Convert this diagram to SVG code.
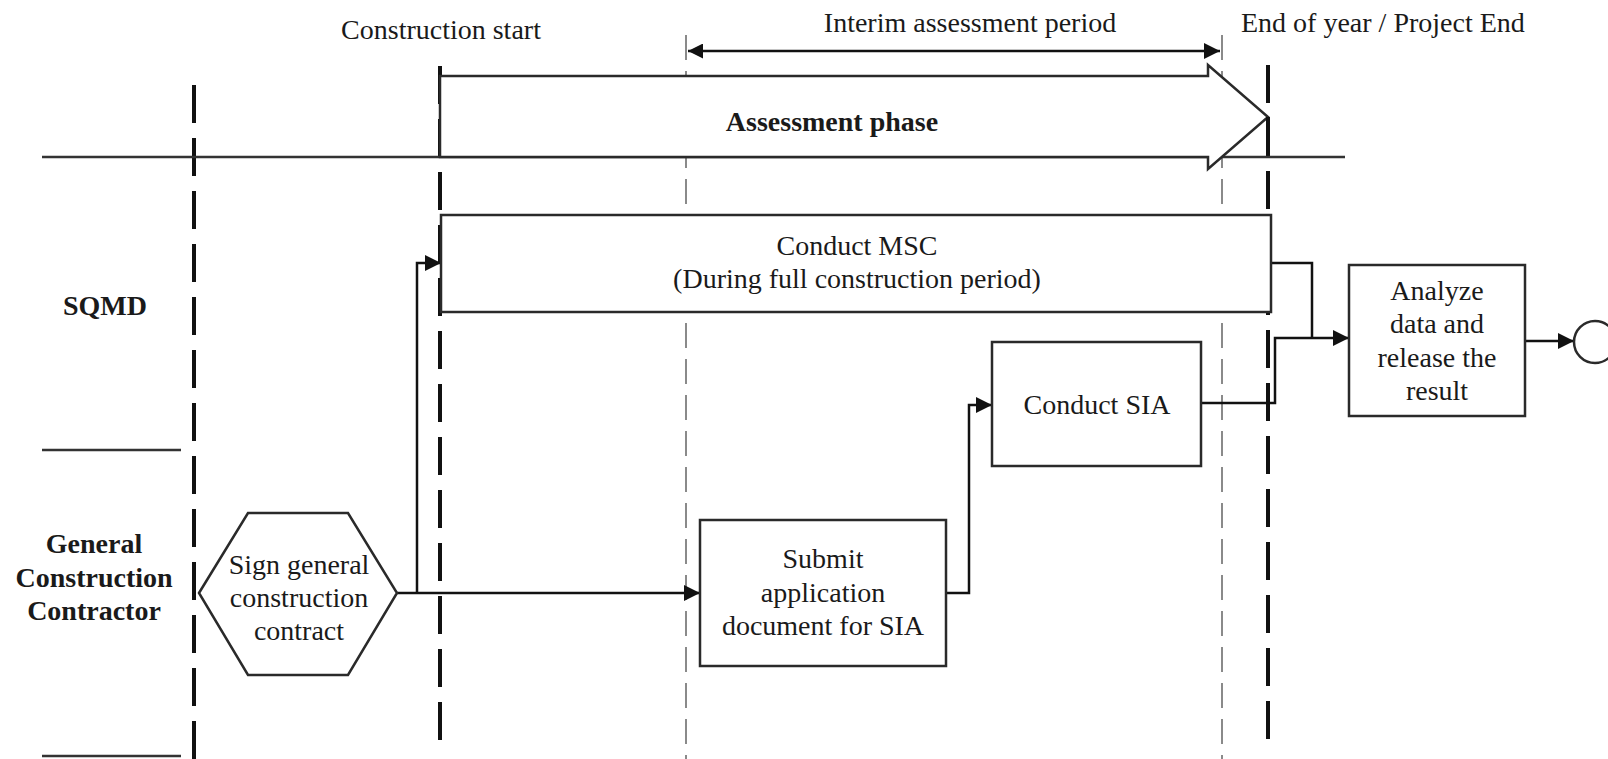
<svg xmlns="http://www.w3.org/2000/svg" width="1608" height="759" viewBox="0 0 1608 759">
<style>
text{font-family:"Liberation Serif","Times New Roman",serif;font-size:28px;fill:#1a1a1a}
.b{font-weight:bold}
.c{text-anchor:middle}
.thick{stroke:#111;stroke-width:4;stroke-dasharray:38 15;fill:none}
.thin{stroke:#8a8a8a;stroke-width:2;stroke-dasharray:25 11;fill:none}
.line{stroke:#333;stroke-width:2.5;fill:none}
.box{fill:#fff;stroke:#2a2a2a;stroke-width:2.5}
.conn{stroke:#111;stroke-width:2.5;fill:none}
</style>
<defs>
<marker id="ah" viewBox="0 0 10 10" refX="10" refY="5" markerWidth="18" markerHeight="16" markerUnits="userSpaceOnUse" orient="auto">
<path d="M0,0 L10,5 L0,10 z" fill="#111"/>
</marker>
<marker id="ahs" viewBox="0 0 10 10" refX="0" refY="5" markerWidth="18" markerHeight="15" markerUnits="userSpaceOnUse" orient="auto">
<path d="M10,0 L0,5 L10,10 z" fill="#111"/>
</marker>
</defs>
<rect width="1608" height="759" fill="#fff"/>
<g id="timeline">
<line class="thin" x1="686" y1="35" x2="686" y2="759"/>
<line class="thin" x1="1222" y1="35" x2="1222" y2="759"/>
<line class="thick" x1="194" y1="85" x2="194" y2="759"/>
<line class="thick" x1="440" y1="66" x2="440" y2="741"/>
<line class="thick" x1="1268" y1="65" x2="1268" y2="740"/>
<line class="line" x1="42" y1="157" x2="1345" y2="157"/>
<line class="line" x1="42" y1="450" x2="181" y2="450"/>
<line class="line" x1="42" y1="756" x2="181" y2="756"/>
<line class="conn" x1="688" y1="51" x2="1220" y2="51" marker-start="url(#ahs)" marker-end="url(#ah)"/>
<text x="441" y="39" class="c">Construction start</text>
<text x="970" y="32" class="c">Interim assessment period</text>
<text x="1241" y="32">End of year / Project End</text>
</g>
<g id="assessment-phase">
<polygon points="440,76 1208,76 1208,65 1268,117 1208,169 1208,157 440,157" fill="#fff" stroke="#2a2a2a" stroke-width="2.5"/>
<line class="thick" x1="1268" y1="117" x2="1268" y2="157" stroke-dasharray="none"/>
<text x="832" y="131" class="c b">Assessment phase</text>
</g>
<g id="lane-sqmd"><text x="105" y="315" class="c b">SQMD</text></g>
<g id="lane-gcc">
<text x="94" y="553" class="c b">General</text>
<text x="94" y="587" class="c b">Construction</text>
<text x="94" y="620" class="c b">Contractor</text>
</g>
<g id="connectors">
<polyline class="conn" points="397,593 700,593" marker-end="url(#ah)"/>
<polyline class="conn" points="417,593 417,263 441,263" marker-end="url(#ah)"/>
<polyline class="conn" points="946,593 969,593 969,405 992,405" marker-end="url(#ah)"/>
<polyline class="conn" points="1201,403 1275,403 1275,338 1349,338" marker-end="url(#ah)"/>
<polyline class="conn" points="1271,263 1312,263 1312,338"/>
<polyline class="conn" points="1525,341 1574,341" marker-end="url(#ah)"/>
</g>
<g id="sign-contract">
<polygon class="box" points="199,593 248,513 348,513 397,593 348,675 248,675"/>
<text x="299" y="574" class="c">Sign general</text>
<text x="299" y="607" class="c">construction</text>
<text x="299" y="640" class="c">contract</text>
</g>
<g id="conduct-msc">
<rect class="box" x="441" y="215" width="830" height="97"/>
<text x="857" y="255" class="c">Conduct MSC</text>
<text x="857" y="288" class="c">(During full construction period)</text>
</g>
<g id="submit-doc">
<rect class="box" x="700" y="520" width="246" height="146"/>
<text x="823" y="568" class="c">Submit</text>
<text x="823" y="602" class="c">application</text>
<text x="823" y="635" class="c">document for SIA</text>
</g>
<g id="conduct-sia">
<rect class="box" x="992" y="342" width="209" height="124"/>
<text x="1097" y="414" class="c">Conduct SIA</text>
</g>
<g id="analyze">
<rect class="box" x="1349" y="265" width="176" height="151"/>
<text x="1437" y="300" class="c">Analyze</text>
<text x="1437" y="333" class="c">data and</text>
<text x="1437" y="367" class="c">release the</text>
<text x="1437" y="400" class="c">result</text>
</g>
<g id="end-event">
<circle cx="1595" cy="342" r="21" fill="#fff" stroke="#2a2a2a" stroke-width="2.5"/>
</g>
</svg>
